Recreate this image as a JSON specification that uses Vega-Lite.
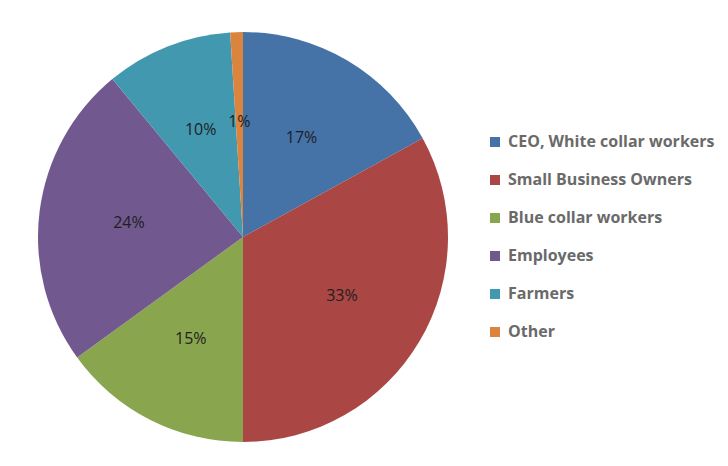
{
  "$schema": "https://vega.github.io/schema/vega-lite/v6.json",
  "width": 486,
  "height": 474,
  "padding": 0,
  "background": "white",
  "config": {"view": {"stroke": null}},
  "data": {
    "values": [
      {"idx": 1, "category": "CEO, White collar workers", "value": 17, "label": "17%"},
      {"idx": 2, "category": "Small Business Owners", "value": 33, "label": "33%"},
      {"idx": 3, "category": "Blue collar workers", "value": 15, "label": "15%"},
      {"idx": 4, "category": "Employees", "value": 24, "label": "24%"},
      {"idx": 5, "category": "Farmers", "value": 10, "label": "10%"},
      {"idx": 6, "category": "Other", "value": 1, "label": "1%"}
    ]
  },
  "encoding": {
    "theta": {"field": "value", "type": "quantitative", "stack": true},
    "order": {"field": "idx", "type": "quantitative"},
    "color": {
      "field": "category",
      "type": "nominal",
      "sort": null,
      "scale": {
        "domain": ["CEO, White collar workers", "Small Business Owners", "Blue collar workers", "Employees", "Farmers", "Other"],
        "range": ["#4572A7", "#AA4643", "#89A54E", "#71588F", "#4198AF", "#DB843D"]
      },
      "legend": {
        "title": null,
        "orient": "none",
        "legendX": 487,
        "legendY": 134,
        "symbolType": "square",
        "symbolSize": 100,
        "symbolStrokeWidth": 0,
        "labelFont": "Open Sans",
        "labelFontSize": 16,
        "labelFontWeight": "bold",
        "labelColor": "#6a6a6a",
        "labelOffset": 5,
        "rowPadding": 22,
        "labelLimit": 300
      }
    }
  },
  "layer": [
    {"mark": {"type": "arc", "outerRadius": 205, "stroke": null}},
    {
      "mark": {"type": "text", "radius": 115, "font": "Open Sans", "fontSize": 16, "color": "#1f1f1f"},
      "encoding": {"text": {"field": "label"}, "color": {"value": "#1f1f1f"}}
    }
  ]
}
